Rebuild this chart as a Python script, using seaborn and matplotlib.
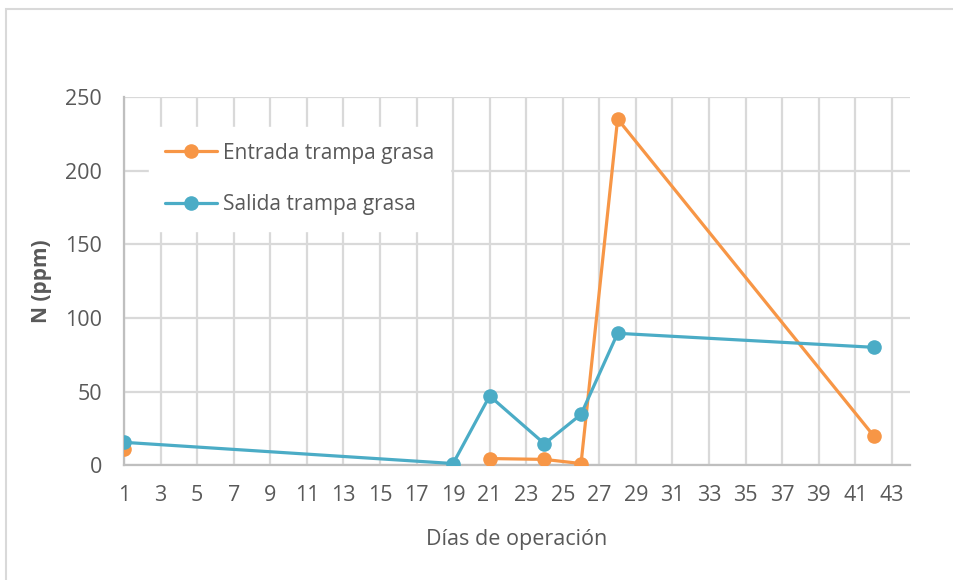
import matplotlib
matplotlib.use("Agg")
import matplotlib.pyplot as plt
import seaborn as sns
import pandas as pd
from matplotlib.patches import Rectangle

# data
dias_entrada = [1, 21, 24, 26, 28, 42]
entrada = [11, 4.5, 3.9, 1.1, 235, 20]
tramo_entrada = [0, 1, 1, 1, 1, 1]  # day 1 is a lone point, no line to day 21
dias_salida = [1, 19, 21, 24, 26, 28, 42]
salida = [15.5, 1.1, 47, 14.5, 34.5, 89.5, 80]

x_ticks = list(range(1, 44, 2))
y_ticks = [0, 50, 100, 150, 200, 250]

df = pd.concat([
    pd.DataFrame({"dia": dias_entrada, "N": entrada, "tramo": tramo_entrada,
                  "serie": "Entrada trampa grasa"}),
    pd.DataFrame({"dia": dias_salida, "N": salida, "tramo": 0,
                  "serie": "Salida trampa grasa"}),
])

sns.set_theme(style="white")
plt.rcParams['font.family'] = ['Open Sans', 'DejaVu Sans']

gray = "#595959"
colors = {"Entrada trampa grasa": "#F79646", "Salida trampa grasa": "#4BACC6"}

fig = plt.figure(figsize=(9.54, 5.8), dpi=100)
ax = fig.add_axes([0.130, 0.198, 0.824, 0.635])

# outer chart frame (only top and left edges visible)
fig.patches.append(Rectangle((6 / 954, -0.1), 1.2, 1 - 9 / 580 + 0.1,
                             transform=fig.transFigure, fill=False,
                             edgecolor="#D9D9D9", linewidth=1.5))

sns.lineplot(data=df, x="dia", y="N", hue="serie", units="tramo", estimator=None,
             palette=colors, marker="o", markersize=10.5, markeredgewidth=0,
             linewidth=2.3, ax=ax, zorder=3)

ax.set_xlim(1, 44)
ax.set_ylim(0, 250)
ax.set_xticks(x_ticks)
ax.set_yticks(y_ticks)
ax.grid(True, color="#D9D9D9", linewidth=1.6)
ax.set_axisbelow(True)
for s in ["top", "right"]:
    ax.spines[s].set_visible(False)
for s in ["left", "bottom"]:
    ax.spines[s].set_color("#BFBFBF")
    ax.spines[s].set_linewidth(1.6)
ax.tick_params(axis="x", length=0, labelsize=15.5, colors=gray, pad=14)
ax.tick_params(axis="y", length=0, labelsize=15.5, colors=gray, pad=16)
ax.set_xlabel("Días de operación", fontsize=15.5, color=gray, labelpad=17)
ax.set_ylabel("N (ppm)", fontsize=15, color=gray, fontweight="bold", labelpad=9)

leg = ax.legend(loc="upper left", bbox_to_anchor=(0.032, 0.918), borderaxespad=0,
                frameon=True, fontsize=15, labelcolor=gray, handlelength=2.5,
                labelspacing=1.45, borderpad=0.75, handletextpad=0.3)
leg.get_frame().set_edgecolor("white")
leg.get_frame().set_facecolor("white")
leg.get_frame().set_alpha(1)
leg.get_frame().set_boxstyle("square", pad=0)
leg.set_zorder(2)

fig.savefig("out.png", dpi=100)
